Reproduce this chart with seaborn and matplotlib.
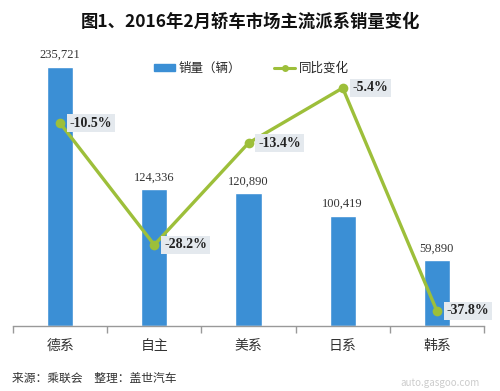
import pandas as pd
import numpy as np
import matplotlib
matplotlib.use("Agg")
import matplotlib.pyplot as plt
import seaborn as sns
from matplotlib.lines import Line2D
from matplotlib.patches import Patch

# 数据
categories = ["德系", "自主", "美系", "日系", "韩系"]
sales = [235721, 124336, 120890, 100419, 59890]
yoy = [-10.5, -28.2, -13.4, -5.4, -37.8]

bar_color = "#3b8fd5"
line_color = "#9dbf3a"

sns.set_theme(style="white")
plt.rcParams['font.family'] = ['Noto Sans CJK SC', 'DejaVu Sans']

df = pd.DataFrame({"派系": categories, "销量": sales, "同比": yoy})

fig = plt.figure(figsize=(5, 3.91), dpi=100)
ax = fig.add_axes([0.026, 0.166, 0.942, 0.704])

sns.barplot(data=df, x="派系", y="销量", color=bar_color, width=0.28,
            saturation=1, ax=ax)
ax.set_ylim(0, 250000)
ax.set_xlim(-0.5, len(categories) - 0.5)
ax.set_xlabel("")
ax.set_ylabel("")
ax.set_yticks([])
for s in ["top", "left", "right"]:
    ax.spines[s].set_visible(False)
ax.spines["bottom"].set_color("#999999")
ax.spines["bottom"].set_linewidth(1)
ax.tick_params(axis="x", length=0, labelsize=10, pad=9, colors="#333333")

# 分隔刻度
bounds = np.arange(-0.5, len(categories), 1.0)
ax.set_xticks(bounds, minor=True)
ax.tick_params(axis="x", which="minor", length=5, color="#999999",
               direction="out", bottom=True)

for i, v in enumerate(sales):
    ax.text(i, v + 5000, f"{v:,}", ha="center", va="bottom",
            fontsize=9, family="Liberation Serif", color="#333333")

ax2 = ax.twinx()
sns.lineplot(x=np.arange(len(categories)), y=yoy, ax=ax2, color=line_color,
             linewidth=2.4, marker="o", markersize=7, markeredgewidth=0)
ax2.set_ylim(-40, 0)
ax2.set_yticks([])
for s in ["top", "left", "right", "bottom"]:
    ax2.spines[s].set_visible(False)

for i, v in enumerate(yoy):
    ax2.annotate(f"{v}%", (i, v), xytext=(7, 0), textcoords="offset points",
                 ha="left", va="center", fontsize=10, fontweight="bold",
                 family="Liberation Serif", color="#222222",
                 bbox=dict(boxstyle="square,pad=0.2", fc="#e4e9ee", ec="none"))

# 图例
handles = [Patch(color=bar_color),
           Line2D([0], [0], color=line_color, lw=2.2, marker="o",
                  markersize=5, markeredgewidth=0)]
fig.legend(handles, ["销量（辆）", "同比变化"], loc="center",
           bbox_to_anchor=(0.503, 0.826), ncol=2, frameon=False,
           fontsize=9, handlelength=1.7, handleheight=0.5,
           columnspacing=2.6, handletextpad=0.3)

fig.text(0.5, 0.945, "图1、2016年2月轿车市场主流派系销量变化", ha="center",
         va="center", fontsize=12.5, fontweight="bold", color="#111111")
fig.text(0.024, 0.033, "来源：乘联会　整理：盖世汽车", ha="left", va="center",
         fontsize=8.5, style="italic", color="#333333")
fig.text(0.96, 0.02, "auto.gasgoo.com", ha="right", va="center",
         fontsize=7, color="#cccccc")

fig.savefig("out.png", dpi=100)
